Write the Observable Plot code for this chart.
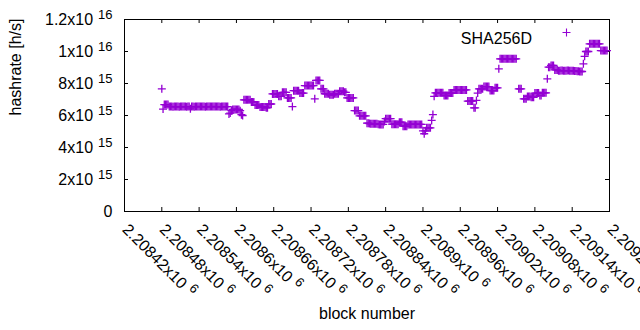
<!DOCTYPE html>
<html>
<head>
<meta charset="utf-8">
<script src="https://cdn.jsdelivr.net/npm/d3@7"></script>
<script src="https://cdn.jsdelivr.net/npm/@observablehq/plot@0.6"></script>
<style>
  html, body { margin: 0; padding: 0; background: #fff; }
  #chart svg { display: block; overflow: visible; }
</style>
</head>
<body>
<div id="chart"></div>
<script>
// ---- data (hashrate in units of 1e15 h/s, one reading every 2 blocks) ----
const seriesName = "SHA256D";
const firstBlock = 2208480;
const blockStep = 2;
const hashrate = [
  7.67, 6.40, 6.68, 6.68, 6.68, 6.68,
  6.57, 6.56, 6.56, 6.55, 6.56, 6.56, 6.56, 6.56, 6.55, 6.56, 6.56, 6.56, 6.56, 6.56, 6.55, 6.56, 6.56,
  6.42,
  6.56, 6.56, 6.55, 6.56, 6.56, 6.56, 6.57, 6.56, 6.56, 6.56,
  6.56, 6.55, 6.56, 6.56, 6.56, 6.56, 6.56, 6.57, 6.56, 6.56,
  6.56, 6.56, 6.56, 6.55, 6.56, 6.56, 6.56, 6.56, 6.56, 6.56,
  6.10, 6.15, 6.30, 6.38, 6.38, 6.38, 6.38, 6.38, 6.38, 6.30, 6.05, 6.00,
  6.98, 6.98, 6.98, 6.98, 6.98, 6.98, 6.85, 6.85, 6.85, 6.65, 6.65, 6.65, 6.65,
  6.53, 6.53, 6.53, 6.53, 6.53, 6.48, 6.48, 6.72, 6.72, 6.72,
  7.35, 7.35, 7.35, 7.35, 7.35, 7.20, 7.20, 7.20, 7.45, 7.45, 7.45, 7.45,
  7.10, 7.10, 7.10, 7.10, 6.56, 7.55, 7.55, 7.55, 7.55, 7.55, 7.40, 7.40, 7.40, 7.40,
  7.87, 7.87, 7.87, 7.87, 7.87, 7.87, 7.87, 7.87, 7.04,
  8.19, 8.19, 8.19, 8.19, 7.67, 7.67, 7.67, 7.36, 7.36, 7.36, 7.36, 7.29, 7.29, 7.29, 7.29,
  7.36, 7.36, 7.36, 7.36, 7.52, 7.52, 7.52, 7.52, 7.45, 7.45, 7.10, 7.10, 7.10, 7.10, 7.10, 7.10,
  6.31, 6.31, 6.31, 6.31, 5.98, 5.98, 5.98, 5.98, 5.98, 5.98,
  5.52, 5.52, 5.50, 5.48, 5.48, 5.48, 5.48, 5.48, 5.48, 5.46, 5.44, 5.44, 5.44, 5.44,
  5.62, 5.80, 5.80, 5.80, 5.80, 5.80,
  5.46, 5.46, 5.46, 5.46, 5.46, 5.46, 5.58, 5.58, 5.58, 5.33, 5.33, 5.33, 5.33,
  5.44, 5.44, 5.44, 5.44, 5.44, 5.44, 5.44, 5.44, 5.44, 5.44, 5.44, 5.44,
  5.04, 4.86, 5.04, 5.23, 5.23, 5.23, 5.23,
  5.69, 6.06, 7.20, 7.42, 7.42, 7.42, 7.42, 7.42, 7.42, 7.42, 7.25, 7.25, 7.25, 7.25,
  7.40, 7.40, 7.40, 7.40, 7.60, 7.60, 7.60, 7.60, 7.60, 7.60, 7.60, 7.60, 7.60, 7.60, 7.60,
  6.90, 6.90, 6.90, 6.90, 6.90, 6.48, 6.48, 6.94, 7.40, 7.67, 7.67, 7.67, 7.67,
  7.81, 7.81, 7.81, 7.81, 7.81, 7.56, 7.56, 7.56, 7.56, 7.73, 7.73, 7.73, 8.92,
  9.54, 9.54, 9.54, 9.54, 9.54, 9.54, 9.54, 9.54, 9.54, 9.54, 9.54, 9.54, 9.54, 9.54,
  null, 7.67, 7.67, 7.67, null,
  7.04, 7.04, 7.04, 7.19, 7.19, 7.19, 7.14, 7.14, 7.14, 7.40, 7.40, 7.40, 7.40,
  7.25, 7.25, 7.42, 7.42, 7.42, 7.42, 8.29,
  9.02, 9.02, 9.13, 9.13, 9.13, 8.85, 8.85, 8.85,
  8.80, 8.80, 8.81, 8.81, 8.80, 8.80, 8.80, 8.81, 8.81, 8.80,
  8.80, 8.80, 8.80, 8.78, 8.78, 8.77, 8.76, 8.75, 8.75, 8.75,
  9.23, 9.70, 10.00, 10.00, 10.00,
  10.48, 10.48, 10.48, 10.48, 10.48, 10.48, 10.48, 10.48, 10.48,
  10.06, 10.06, 10.06, 10.06, 10.06, 10.06
];

// ---- axes ----
const xTicks = [2208420, 2208480, 2208540, 2208600, 2208660, 2208720, 2208780,
                2208840, 2208900, 2208960, 2209020, 2209080, 2209140, 2209200];
const xTickBase = ["2.20842x10", "2.20848x10", "2.20854x10", "2.2086x10", "2.20866x10",
                   "2.20872x10", "2.20878x10", "2.20884x10", "2.2089x10", "2.20896x10",
                   "2.20902x10", "2.20908x10", "2.20914x10", "2.2092x10"];
const xTickExp = "6";
const yTicks = [0, 2e15, 4e15, 6e15, 8e15, 1e16, 1.2e16];
const yTickBase = ["0", "2x10", "4x10", "6x10", "8x10", "1x10", "1.2x10"];
const yTickExp = ["", "15", "15", "15", "15", "16", "16"];
const xTitle = "block number";
const yTitle = "hashrate [h/s]";

const color = "#9400d3";
const points = hashrate
  .map((v, i) => ({block: firstBlock + i * blockStep, rate: v === null ? null : v * 1e15}))
  .filter(d => d.rate !== null);

const innerW = 640 - 124 - 31;
const innerH = 330 - 19 - 119;
const tickLen = 4;
const fs = 16;

const chart = Plot.plot({
  width: 640,
  height: 330,
  marginLeft: 124,
  marginRight: 31,
  marginTop: 19,
  marginBottom: 119,
  style: {fontFamily: "'Liberation Sans', Arial, sans-serif", fontSize: "16px", color: "#000", background: "#fff"},
  x: {domain: [xTicks[0], xTicks[xTicks.length - 1]], axis: null},
  y: {domain: [yTicks[0], yTicks[yTicks.length - 1]], axis: null},
  marks: [
    Plot.tickY(yTicks, {y: d => d, insetRight: innerW - tickLen, stroke: "#000"}),
    Plot.tickY(yTicks, {y: d => d, insetLeft: innerW - tickLen, stroke: "#000"}),
    Plot.tickX(xTicks, {x: d => d, insetTop: innerH - tickLen, stroke: "#000"}),
    Plot.tickX(xTicks, {x: d => d, insetBottom: innerH - tickLen, stroke: "#000"}),
    Plot.frame({stroke: "#000"}),
    Plot.text(yTicks, {y: d => d, frameAnchor: "left", text: (d, i) => yTickBase[i],
      textAnchor: "end", dx: -12, fontSize: fs}),
    Plot.text(xTicks, {x: d => d, frameAnchor: "bottom", text: (d, i) => xTickBase[i],
      rotate: 45, textAnchor: "start", lineAnchor: "top", dx: 5, dy: 11, fontSize: fs}),
    Plot.text([yTitle], {frameAnchor: "left", text: d => d, rotate: -90, dx: -108.5, fontSize: fs}),
    Plot.text([xTitle], {frameAnchor: "bottom", text: d => d, dy: 107.5, fontSize: fs}),
    Plot.text([seriesName], {frameAnchor: "top-right", text: d => d, textAnchor: "end", dx: -77.5, dy: 13, fontSize: fs}),
    Plot.dot([seriesName], {frameAnchor: "top-right", dx: -43, dy: 13, symbol: "plus", r: 2.7, stroke: color, strokeWidth: 1.1}),
    Plot.dot(points, {x: "block", y: "rate", symbol: "plus", r: 2.7, stroke: color, strokeWidth: 1.3})
  ]
});

document.getElementById("chart").appendChild(chart);

// superscript exponents, gnuplot style
d3.select(chart).selectAll("text").each(function() {
  const s = this.textContent;
  let exp = "";
  const xi = xTickBase.indexOf(s);
  const yi = yTickBase.indexOf(s);
  if (xi >= 0) exp = xTickExp;
  else if (yi >= 0) exp = yTickExp[yi];
  if (exp) {
    d3.select(this).append("tspan").attr("dx", 5).attr("dy", -6)
      .attr("font-size", 13).text(exp);
  }
});
</script>
</body>
</html>
